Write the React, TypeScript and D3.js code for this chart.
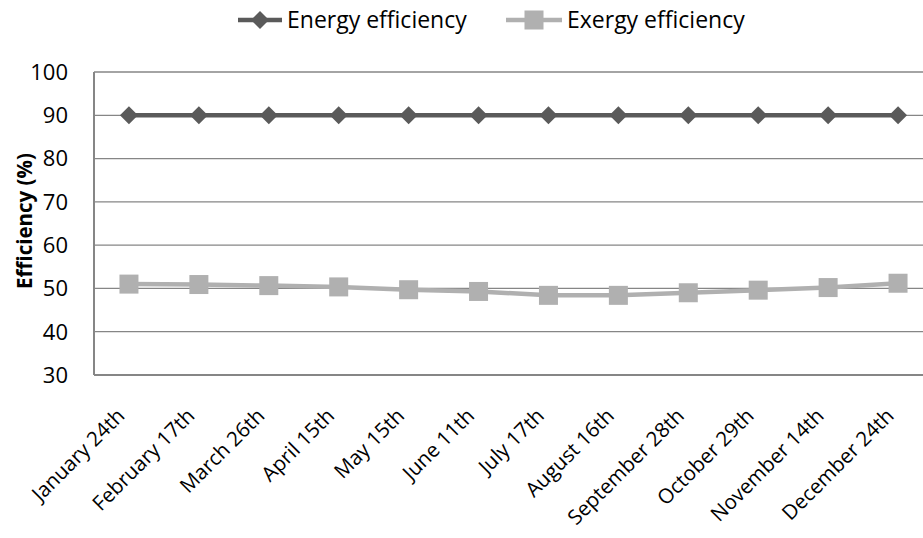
import React from "react";
import * as d3 from "d3";

const categories = [
  "January 24th", "February 17th", "March 26th", "April 15th", "May 15th", "June 11th",
  "July 17th", "August 16th", "September 28th", "October 29th", "November 14th", "December 24th",
];
const energyEfficiency = [90, 90, 90, 90, 90, 90, 90, 90, 90, 90, 90, 90];
const exergyEfficiency = [51.0, 50.9, 50.65, 50.35, 49.7, 49.3, 48.4, 48.4, 49.0, 49.6, 50.2, 51.2];
const yTicks = [30, 40, 50, 60, 70, 80, 90, 100];

const W = 923, H = 538;
const left = 94, right = 933, top = 72, bottom = 375;
const FONT = "'Open Sans', sans-serif";
const ENERGY = "#5a5a5a";
const EXERGY = "#b0b0b0";

export default function App() {
  const x = d3.scaleBand<string>().domain(categories).range([left, right]);
  const y = d3.scaleLinear().domain([30, 100]).range([bottom, top]);
  const cx = (c: string) => (x(c) as number) + x.bandwidth() / 2;
  const line = d3.line<number>().x((_, i) => cx(categories[i])).y((d) => y(d));
  const diamond = (px: number, py: number, r: number) =>
    `M${px},${py - r}L${px + r},${py}L${px},${py + r}L${px - r},${py}Z`;
  const sq = 9.5;

  return (
    <svg width={W} height={H} style={{ position: "absolute", left: 0, top: 0, background: "#fff" }} fontFamily={FONT}>
      <rect width={W} height={H} fill="#fff" />
      {yTicks.map((t) => (
        <line key={t} x1={left} x2={right} y1={y(t)} y2={y(t)} stroke="#868686" strokeWidth={1.3} />
      ))}
      <line x1={left} x2={left} y1={top} y2={bottom} stroke="#868686" strokeWidth={2} />
      <line x1={left} x2={right} y1={bottom} y2={bottom} stroke="#868686" strokeWidth={2} />
      {yTicks.map((t) => (
        <text key={t} x={68} y={y(t)} dy="0.36em" textAnchor="end" fontSize={22} fill="#000">
          {t}
        </text>
      ))}
      <text transform={`translate(32,221) rotate(-90)`} textAnchor="middle" fontSize={20.5} fontWeight="bold">
        Efficiency (%)
      </text>
      {categories.map((c) => (
        <text key={c} transform={`translate(${cx(c) - 3},${bottom + 42}) rotate(-45)`} textAnchor="end" fontSize={20.5}>
          {c}
        </text>
      ))}
      <path d={line(exergyEfficiency) || ""} fill="none" stroke={EXERGY} strokeWidth={4.5} />
      {exergyEfficiency.map((v, i) => (
        <rect key={i} x={cx(categories[i]) - sq} y={y(v) - sq} width={sq * 2} height={sq * 2} fill={EXERGY} />
      ))}
      <path d={line(energyEfficiency) || ""} fill="none" stroke={ENERGY} strokeWidth={4.5} />
      {energyEfficiency.map((v, i) => (
        <path key={i} d={diamond(cx(categories[i]), y(v), 9)} fill={ENERGY} />
      ))}
      <line x1={238} x2={282} y1={20} y2={20} stroke={ENERGY} strokeWidth={4.5} />
      <path d={diamond(260, 20, 9)} fill={ENERGY} />
      <text x={287} y={28} fontSize={23}>Energy efficiency</text>
      <line x1={506} x2={562} y1={20} y2={20} stroke={EXERGY} strokeWidth={4.5} />
      <rect x={534 - sq} y={20 - sq} width={sq * 2} height={sq * 2} fill={EXERGY} />
      <text x={567} y={28} fontSize={23}>Exergy efficiency</text>
    </svg>
  );
}
